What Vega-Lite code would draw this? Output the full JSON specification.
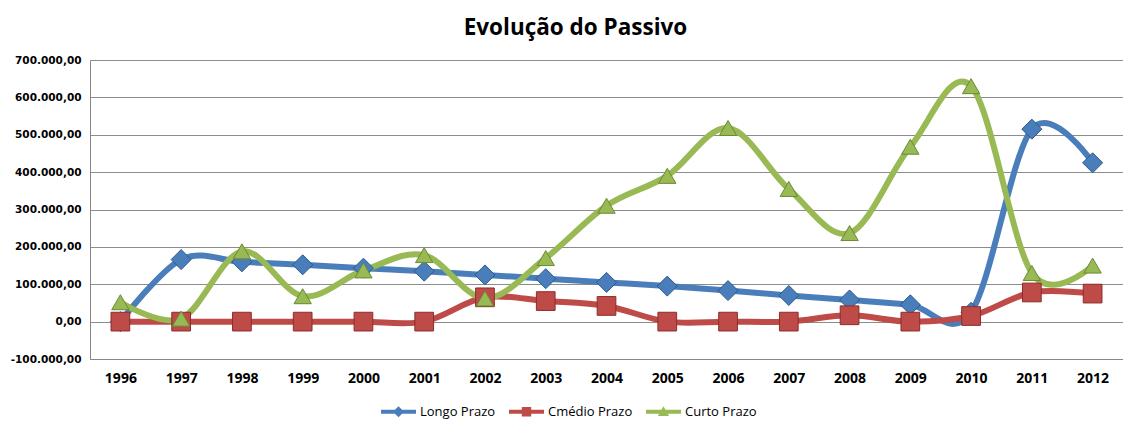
{
  "$schema": "https://vega.github.io/schema/vega-lite/v6.json",
  "autosize": {"type": "none"},
  "padding": {"left": 90, "top": 60, "right": 0, "bottom": 62},
  "width": 1033,
  "height": 299,
  "background": "white",
  "title": {
    "text": "Evolução do Passivo",
    "font": "Open Sans",
    "fontSize": 22.5,
    "fontWeight": "bold",
    "color": "#000000",
    "anchor": "middle",
    "dx": -31,
    "offset": 16
  },
  "config": {
    "locale": {
      "number": {"decimal": ",", "thousands": ".", "grouping": [3], "currency": ["R$ ", ""], "minus": "-"}
    },
    "view": {"stroke": null}
  },
  "resolve": {
    "scale": {"shape": "independent"},
    "legend": {"color": "independent", "shape": "independent", "size": "independent", "stroke": "independent"}
  },
  "data": {
    "values": [
      {"year": "1996", "series": "Longo Prazo", "value": 0},
      {"year": "1997", "series": "Longo Prazo", "value": 166000},
      {"year": "1998", "series": "Longo Prazo", "value": 160000},
      {"year": "1999", "series": "Longo Prazo", "value": 152000},
      {"year": "2000", "series": "Longo Prazo", "value": 143000},
      {"year": "2001", "series": "Longo Prazo", "value": 135000},
      {"year": "2002", "series": "Longo Prazo", "value": 125000},
      {"year": "2003", "series": "Longo Prazo", "value": 115000},
      {"year": "2004", "series": "Longo Prazo", "value": 105000},
      {"year": "2005", "series": "Longo Prazo", "value": 95000},
      {"year": "2006", "series": "Longo Prazo", "value": 83000},
      {"year": "2007", "series": "Longo Prazo", "value": 70000},
      {"year": "2008", "series": "Longo Prazo", "value": 58000},
      {"year": "2009", "series": "Longo Prazo", "value": 45000},
      {"year": "2010", "series": "Longo Prazo", "value": 25000},
      {"year": "2011", "series": "Longo Prazo", "value": 515000},
      {"year": "2012", "series": "Longo Prazo", "value": 425000},
      {"year": "1996", "series": "Cmédio Prazo", "value": 0},
      {"year": "1997", "series": "Cmédio Prazo", "value": 0},
      {"year": "1998", "series": "Cmédio Prazo", "value": 0},
      {"year": "1999", "series": "Cmédio Prazo", "value": 0},
      {"year": "2000", "series": "Cmédio Prazo", "value": 0},
      {"year": "2001", "series": "Cmédio Prazo", "value": 0},
      {"year": "2002", "series": "Cmédio Prazo", "value": 65000},
      {"year": "2003", "series": "Cmédio Prazo", "value": 55000},
      {"year": "2004", "series": "Cmédio Prazo", "value": 42000},
      {"year": "2005", "series": "Cmédio Prazo", "value": 0},
      {"year": "2006", "series": "Cmédio Prazo", "value": 0},
      {"year": "2007", "series": "Cmédio Prazo", "value": 0},
      {"year": "2008", "series": "Cmédio Prazo", "value": 17000},
      {"year": "2009", "series": "Cmédio Prazo", "value": 0},
      {"year": "2010", "series": "Cmédio Prazo", "value": 15000},
      {"year": "2011", "series": "Cmédio Prazo", "value": 78000},
      {"year": "2012", "series": "Cmédio Prazo", "value": 75000},
      {"year": "1996", "series": "Curto Prazo", "value": 52000},
      {"year": "1997", "series": "Curto Prazo", "value": 8000},
      {"year": "1998", "series": "Curto Prazo", "value": 188000},
      {"year": "1999", "series": "Curto Prazo", "value": 68000},
      {"year": "2000", "series": "Curto Prazo", "value": 137000},
      {"year": "2001", "series": "Curto Prazo", "value": 178000},
      {"year": "2002", "series": "Curto Prazo", "value": 62000},
      {"year": "2003", "series": "Curto Prazo", "value": 170000},
      {"year": "2004", "series": "Curto Prazo", "value": 310000},
      {"year": "2005", "series": "Curto Prazo", "value": 390000},
      {"year": "2006", "series": "Curto Prazo", "value": 518000},
      {"year": "2007", "series": "Curto Prazo", "value": 355000},
      {"year": "2008", "series": "Curto Prazo", "value": 237000},
      {"year": "2009", "series": "Curto Prazo", "value": 468000},
      {"year": "2010", "series": "Curto Prazo", "value": 630000},
      {"year": "2011", "series": "Curto Prazo", "value": 130000},
      {"year": "2012", "series": "Curto Prazo", "value": 150000}
    ]
  },
  "encoding": {
    "x": {
      "field": "year",
      "type": "ordinal",
      "scale": {"type": "point", "padding": 0.5},
      "axis": {
        "title": null,
        "labelAngle": 0,
        "labelFont": "Open Sans",
        "labelFontSize": 14,
        "labelFontWeight": "bold",
        "labelColor": "#000000",
        "labelPadding": 12,
        "ticks": false,
        "domainColor": "#888888",
        "grid": false
      }
    },
    "y": {
      "field": "value",
      "type": "quantitative",
      "scale": {"domain": [-100000, 700000], "nice": false, "zero": false},
      "axis": {
        "title": null,
        "values": [-100000, 0, 100000, 200000, 300000, 400000, 500000, 600000, 700000],
        "format": ",.2f",
        "labelFont": "DejaVu Sans",
        "labelFontSize": 10.5,
        "labelFontWeight": "bold",
        "labelColor": "#000000",
        "labelPadding": 9,
        "ticks": false,
        "domainColor": "#888888",
        "gridColor": "#8c8c8c",
        "gridWidth": 1,
        "gridOpacity": 1
      }
    }
  },
  "layer": [
    {
      "mark": {"type": "line", "interpolate": "cardinal", "strokeWidth": 6, "strokeCap": "round"},
      "encoding": {
        "color": {
          "field": "series",
          "type": "nominal",
          "scale": {"domain": ["Longo Prazo", "Cmédio Prazo", "Curto Prazo"], "range": ["#4A7EBB", "#BE4B48", "#98B954"]},
          "legend": null
        }
      }
    },
    {
      "mark": {"type": "point", "filled": true, "opacity": 1, "strokeWidth": 1},
      "encoding": {
        "color": {
          "field": "series",
          "type": "nominal",
          "scale": {"domain": ["Longo Prazo", "Cmédio Prazo", "Curto Prazo"], "range": ["#4A7EBB", "#BE4B48", "#98B954"]},
          "legend": null
        },
        "shape": {
          "field": "series",
          "type": "nominal",
          "scale": {"domain": ["Longo Prazo", "Cmédio Prazo", "Curto Prazo"], "range": ["diamond", "square", "triangle-up"]},
          "legend": null
        },
        "size": {
          "field": "series",
          "type": "nominal",
          "scale": {"domain": ["Longo Prazo", "Cmédio Prazo", "Curto Prazo"], "range": [400, 300, 500]},
          "legend": null
        },
        "stroke": {
          "field": "series",
          "type": "nominal",
          "scale": {"domain": ["Longo Prazo", "Cmédio Prazo", "Curto Prazo"], "range": ["#2C5A8C", "#8C2D2A", "#6A8A33"]},
          "legend": null
        }
      }
    },
    {
      "transform": [{"filter": "false"}],
      "mark": {"type": "point", "filled": true, "opacity": 1},
      "encoding": {
        "color": {
          "field": "series",
          "type": "nominal",
          "scale": {"domain": ["Longo Prazo", "Cmédio Prazo", "Curto Prazo"], "range": ["#4A7EBB", "#BE4B48", "#98B954"]},
          "legend": {
            "title": null,
            "orient": "none",
            "direction": "horizontal",
            "legendX": 291,
            "legendY": 334,
            "symbolSize": 1225,
            "symbolOpacity": 1,
            "symbolStrokeWidth": 0,
            "labelFont": "Open Sans",
            "labelFontSize": 13,
            "labelColor": "#000000",
            "labelOffset": 4,
            "columnPadding": 13
          }
        },
        "shape": {
          "field": "series",
          "type": "nominal",
          "scale": {
            "domain": ["Longo Prazo", "Cmédio Prazo", "Curto Prazo"],
            "range": [
              "M-1,-0.12H1V0.12H-1Z M0,-0.32L0.32,0L0,0.32L-0.32,0Z",
              "M-1,-0.12H1V0.12H-1Z M-0.27,-0.27H0.27V0.27H-0.27Z",
              "M-1,-0.12H1V0.12H-1Z M0,-0.32L0.32,0.24L-0.32,0.24Z"
            ]
          },
          "legend": {
            "title": null,
            "orient": "none",
            "direction": "horizontal",
            "legendX": 291,
            "legendY": 334,
            "symbolSize": 1225,
            "symbolOpacity": 1,
            "symbolStrokeWidth": 0,
            "labelFont": "Open Sans",
            "labelFontSize": 13,
            "labelColor": "#000000",
            "labelOffset": 4,
            "columnPadding": 13
          }
        }
      }
    }
  ]
}
